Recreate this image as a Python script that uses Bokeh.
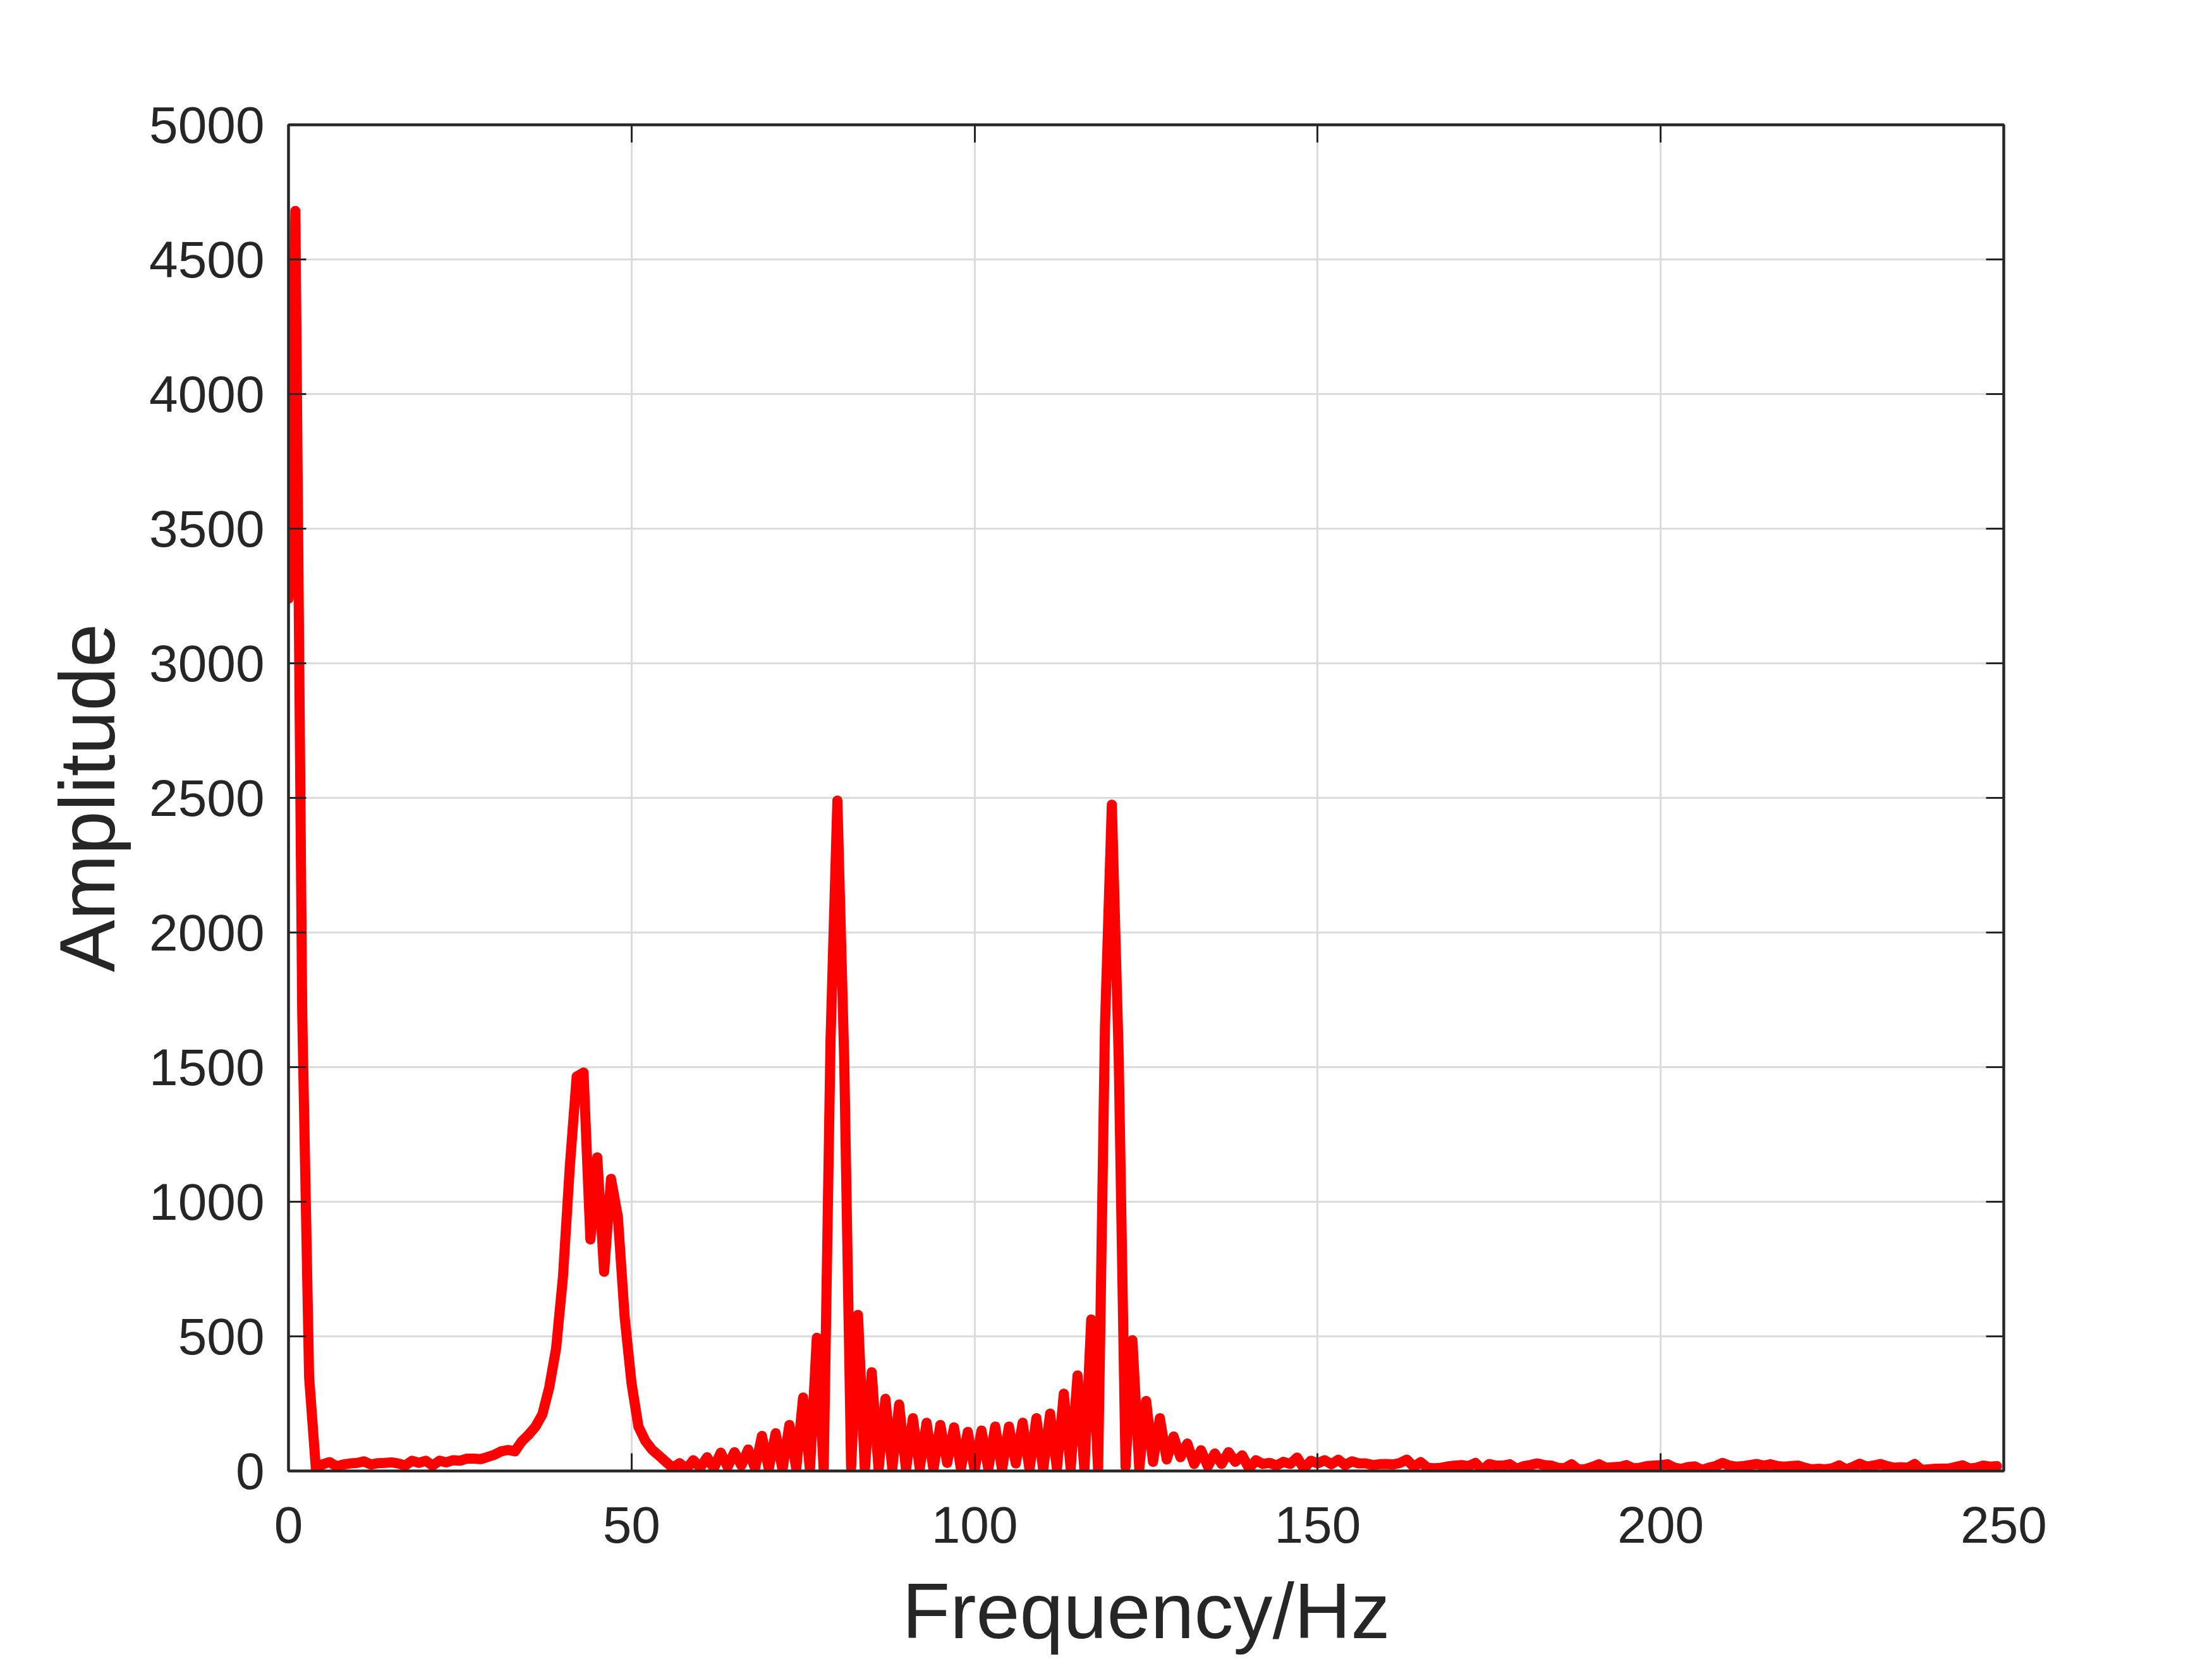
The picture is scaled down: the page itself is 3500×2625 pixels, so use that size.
from bokeh.plotting import figure
from bokeh.models import LinearAxis, FixedTicker, Range1d, CustomJSTickFormatter
from bokeh.embed import file_html
from bokeh.resources import INLINE

freq = list(range(250))
amplitude = [
    3240, 4680, 1700, 350, 5, 25, 33, 17, 24, 28,
    30, 36, 24, 29, 30, 32, 28, 20, 38, 30,
    38, 20, 38, 32, 40, 38, 46, 46, 44, 52,
    60, 73, 78, 73, 110, 135, 165, 210, 310, 455,
    720, 1130, 1465, 1480, 860, 1165, 740, 1085, 945, 570,
    325, 165, 112, 79, 57, 34, 12, 29, 7, 40,
    12, 51, 10, 68, 15, 70, 20, 80, 10, 130,
    8, 140, 5, 171, 8, 273, 3, 495, 3, 1600,
    2490, 1520, 12, 580, 3, 367, 5, 268, 9, 247,
    5, 196, 9, 179, 5, 171, 30, 162, 9, 145,
    3, 150, 8, 165, 5, 165, 28, 179, 5, 196,
    5, 213, 9, 287, 9, 355, 3, 563, 3, 1650,
    2475, 1540, 15, 486, 9, 260, 34, 196, 43, 128,
    51, 102, 26, 77, 17, 65, 26, 70, 34, 58,
    9, 40, 26, 30, 20, 34, 26, 50, 9, 38,
    28, 40, 25, 42, 22, 36, 28, 28, 22, 25,
    26, 24, 30, 42, 15, 33, 12, 10, 12, 17,
    20, 22, 18, 30, 3, 26, 20, 20, 25, 8,
    18, 22, 28, 22, 20, 12, 10, 25, 5, 7,
    15, 25, 12, 14, 15, 22, 10, 12, 18, 20,
    22, 25, 12, 8, 15, 17, 4, 12, 18, 30,
    20, 16, 18, 22, 26, 20, 25, 18, 16, 18,
    20, 12, 6, 8, 6, 10, 21, 6, 15, 27,
    16, 20, 26, 18, 12, 14, 12, 26, 4, 6,
    8, 9, 9, 15, 21, 9, 12, 20, 16, 18,
]
x_ticks = [0, 50, 100, 150, 200, 250]
y_ticks = [0, 500, 1000, 1500, 2000, 2500, 3000, 3500, 4000, 4500, 5000]

TXT = "#262626"
FONT = "Liberation Sans"

p = figure(frame_width=2714, frame_height=2130,
           min_border_left=456, min_border_top=197,
           min_border_right=314, min_border_bottom=282,
           output_backend="svg", toolbar_location=None,
           x_range=Range1d(0, 250), y_range=Range1d(0, 5000))

p.background_fill_color = "white"
p.border_fill_color = "white"
p.outline_line_color = TXT
p.outline_line_width = 4

p.line(freq, amplitude, line_color="#ff0000", line_width=16,
       line_join="round", line_cap="round")

for g, t in ((p.xgrid, x_ticks), (p.ygrid, y_ticks)):
    g.ticker = FixedTicker(ticks=t)
    g.grid_line_color = "#dcdcdc"
    g.grid_line_width = 3


def style_axis(ax, ticks, label_size="82px"):
    ax.ticker = FixedTicker(ticks=ticks)
    ax.axis_line_color = TXT
    ax.axis_line_width = 4
    ax.major_tick_in = 28
    ax.major_tick_out = 0
    ax.major_tick_line_color = TXT
    ax.major_tick_line_width = 3
    ax.minor_tick_line_color = None
    ax.major_label_text_font = FONT
    ax.major_label_text_font_size = label_size
    ax.major_label_text_color = TXT
    ax.axis_label_text_font = FONT
    ax.axis_label_text_font_size = "124px"
    ax.axis_label_text_font_style = "normal"
    ax.axis_label_text_color = TXT


xa = p.xaxis[0]
style_axis(xa, x_ticks)
xa.axis_label = "Frequency/Hz"
xa.major_label_standoff = 56
xa.axis_label_standoff = 36

ya = p.yaxis[0]
style_axis(ya, y_ticks)
ya.axis_label = "Amplitude"
ya.major_label_standoff = 38
ya.axis_label_standoff = 26

top = LinearAxis(formatter=CustomJSTickFormatter(code="return ''"))
style_axis(top, x_ticks, "1px")
top.major_label_standoff = 0
p.add_layout(top, "above")

right = LinearAxis(formatter=CustomJSTickFormatter(code="return ''"))
style_axis(right, y_ticks, "1px")
right.major_label_standoff = 0
p.add_layout(right, "right")

open("out.html", "w").write(file_html(p, INLINE))
